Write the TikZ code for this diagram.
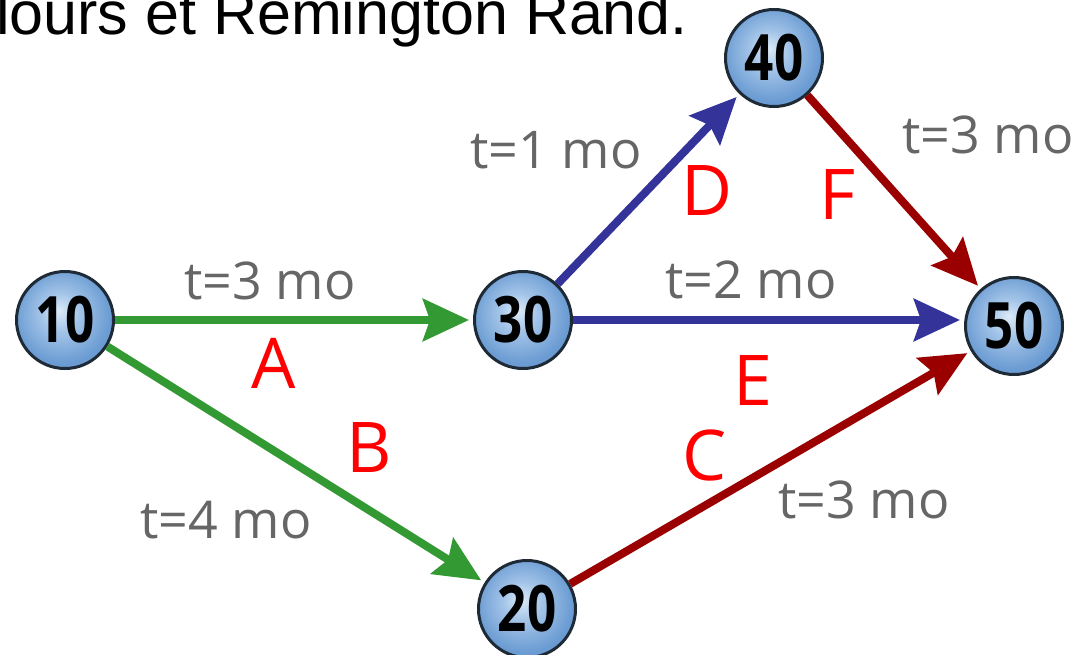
\documentclass[tikz,border=0pt]{standalone}
\usepackage{fontspec}
\usepackage{graphicx}
\setmainfont{Open Sans}
\newfontfamily\topfont{Liberation Sans}
\usetikzlibrary{arrows.meta}
\definecolor{edgegreen}{HTML}{339933}
\definecolor{edgeblue}{HTML}{333399}
\definecolor{edgered}{HTML}{9A0000}
\definecolor{labgray}{HTML}{666666}
\definecolor{ballhi}{HTML}{DCEAF8}
\definecolor{ballmid}{HTML}{A3C4E8}
\definecolor{balllo}{HTML}{6A9BD2}
\definecolor{ballrim}{HTML}{1E2A36}
\pgfdeclareradialshading{nodeball}{\pgfpoint{-3bp}{5bp}}{color(0bp)=(ballhi); color(10bp)=(ballmid); color(25bp)=(balllo); color(50bp)=(balllo)}
\newcommand{\evnum}[1]{\scalebox{0.8}[1]{#1}}
\begin{document}
\begin{tikzpicture}[x=1pt,y=-1pt,
  ev/.style={circle, draw=ballrim, line width=3pt, shading=nodeball, minimum size=97pt, inner sep=0pt,
             font=\fontsize{64}{64}\selectfont\bfseries},
  act/.style={line width=8pt, -{Stealth[length=46pt,width=42pt,inset=7pt]}, shorten >=4pt},
  dur/.style={text=labgray, inner sep=0pt, font=\fontsize{52}{52}\selectfont},
  tag/.style={text=red, inner sep=0pt, font=\fontsize{70}{70}\selectfont}]
\useasboundingbox (0,0) rectangle (1081,655);
\node[anchor=base west, inner sep=0pt, font=\topfont\fontsize{61}{61}\selectfont] (head) at (-4,35) {lours et Remington Rand.};

\node[ev] (n10) at (65,320) {\evnum{10}};
\node[ev] (n30) at (523,320) {\evnum{30}};
\node[ev] (n40) at (774,58) {\evnum{40}};
\node[ev] (n50) at (1014,326) {\evnum{50}};
\node[ev] (n20) at (527,609) {\evnum{20}};

\draw[act, edgegreen] (n10) -- (n30);
\draw[act, edgegreen] (n10) -- (n20);
\draw[act, edgered] (n20) -- (n50);
\draw[act, edgeblue] (n30) -- (n40);
\draw[act, edgeblue] (n30.east) -- (n30.east -| n50.west);
\draw[act, edgered] (n40) -- (n50);

\node[dur] (dA) at (270,281) {t=3 mo};
\node[tag] (lA) at (274,363) {A};
\node[dur] (dB) at (226,520) {t=4 mo};
\node[tag] (lB) at (369,448) {B};
\node[dur] (dC) at (864,500) {t=3 mo};
\node[tag] (lC) at (705,455) {C};
\node[dur] (dD) at (556,150) {t=1 mo};
\node[tag] (lD) at (707,191) {D};
\node[dur] (dE) at (751,280) {t=2 mo};
\node[tag] (lE) at (753,381) {E};
\node[dur] (dF) at (988,135) {t=3 mo};
\node[tag] (lF) at (838,195) {F};
\end{tikzpicture}
\end{document}
